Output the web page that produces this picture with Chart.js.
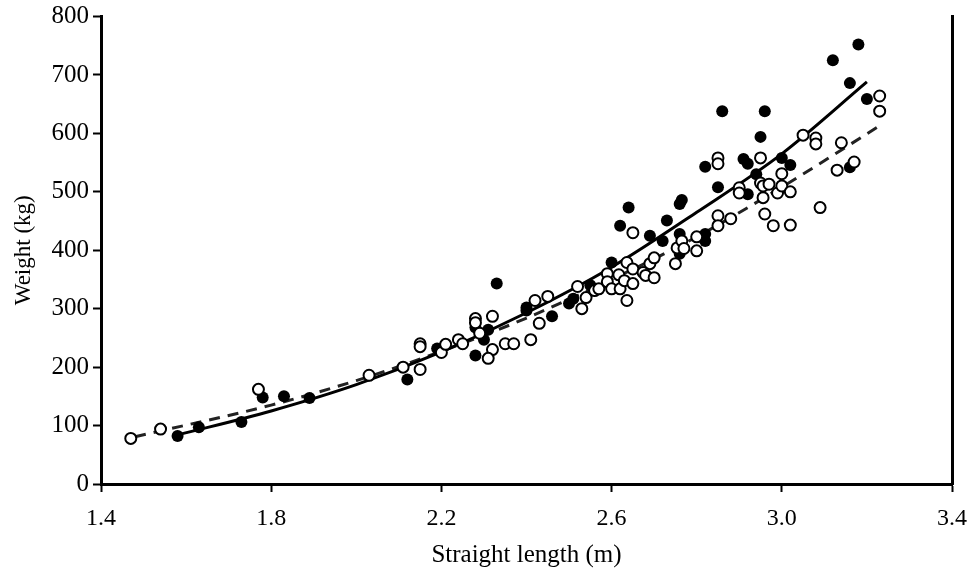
<!DOCTYPE html>
<html lang="en">
<head>
    <meta charset="UTF-8">
    <title>Weight vs straight length</title>
    <script src="https://cdn.jsdelivr.net/npm/chart.js"></script>
    <style>
        html, body { margin: 0; padding: 0; background: #fff; }
        .box { width: 974px; height: 574px; }
    </style>
</head>
<body>
    <div class="box">
        <canvas id="myChart" width="974" height="574"></canvas>
    </div>

    <script>
        // filled circles [length m, weight kg]
        const filledPts = [
            [1.58, 82], [1.63, 97], [1.73, 106], [1.78, 148], [1.83, 150], [1.89, 147],
            [2.12, 179], [2.19, 232], [2.28, 268], [2.28, 220], [2.30, 247], [2.31, 264],
            [2.33, 343], [2.40, 302], [2.40, 297], [2.46, 287], [2.50, 309], [2.51, 317],
            [2.55, 340], [2.60, 379], [2.62, 442], [2.64, 473], [2.69, 425], [2.72, 416],
            [2.73, 451], [2.76, 479], [2.765, 486], [2.76, 428], [2.76, 394], [2.82, 428],
            [2.82, 416], [2.82, 543], [2.85, 508], [2.86, 638], [2.91, 556], [2.92, 548],
            [2.92, 496], [2.94, 530], [2.95, 594], [2.96, 638], [3.00, 558], [3.02, 546],
            [3.12, 725], [3.16, 686], [3.18, 752], [3.20, 659], [3.16, 542]
        ]

        // open circles [length m, weight kg]
        const openPts = [
            [1.47, 78], [1.54, 94], [1.77, 162], [2.03, 186], [2.11, 200], [2.15, 196],
            [2.15, 240], [2.15, 235], [2.20, 225], [2.21, 239], [2.24, 247], [2.25, 240],
            [2.28, 283], [2.28, 276], [2.29, 258], [2.32, 287], [2.32, 230], [2.31, 215],
            [2.35, 240], [2.37, 240], [2.41, 247], [2.42, 314], [2.43, 275], [2.45, 321],
            [2.52, 338], [2.53, 300], [2.54, 319], [2.56, 331], [2.57, 334], [2.59, 360],
            [2.59, 346], [2.60, 334], [2.62, 334], [2.617, 358], [2.63, 348], [2.636, 314],
            [2.636, 379], [2.65, 430], [2.65, 368], [2.65, 343], [2.674, 362], [2.68, 357],
            [2.69, 377], [2.70, 387], [2.70, 353], [2.75, 377], [2.754, 404], [2.765, 416],
            [2.77, 403], [2.80, 399], [2.80, 423], [2.85, 459], [2.85, 442], [2.85, 558],
            [2.85, 548], [2.88, 454], [2.90, 507], [2.90, 498], [2.95, 558], [2.95, 515],
            [2.956, 510], [2.97, 513], [2.956, 490], [2.96, 462], [2.98, 442], [2.99, 498],
            [3.00, 531], [3.00, 510], [3.02, 500], [3.02, 443], [3.05, 597], [3.08, 592],
            [3.08, 582], [3.09, 473], [3.13, 537], [3.14, 584], [3.17, 551], [3.23, 664],
            [3.23, 638]
        ]

        // fitted curves
        const solidFitX = [1.58, 1.8, 2.0, 2.2, 2.4, 2.6, 2.8, 3.0, 3.2]
        const solidFitY = [84, 125, 170, 226, 293, 371, 465, 565, 688]
        const dashFitX = [1.48, 1.8, 2.0, 2.2, 2.4, 2.6, 2.8, 3.0, 3.23]
        const dashFitY = [81, 135, 177, 227, 284, 350, 423, 508, 613]

        const toXY = (xs, ys) => xs.map((x, i) => ({ x: x, y: ys[i] }))
        const pairs = arr => arr.map(p => ({ x: p[0], y: p[1] }))

        const serif = 'Liberation Serif'

        const ctx = document.getElementById('myChart').getContext('2d')
        const myChart = new Chart(ctx, {
            type: 'scatter',
            data: {
                datasets: [
                    {
                        label: 'open',
                        data: pairs(openPts),
                        pointRadius: 5.5,
                        pointBorderWidth: 2,
                        pointBorderColor: '#000',
                        pointBackgroundColor: '#fff'
                    },
                    {
                        label: 'filled',
                        data: pairs(filledPts),
                        pointRadius: 6,
                        pointBorderWidth: 0,
                        pointBackgroundColor: '#000'
                    },
                    {
                        label: 'fit filled',
                        data: toXY(solidFitX, solidFitY),
                        showLine: true,
                        pointRadius: 0,
                        borderColor: '#000',
                        borderWidth: 3,
                        cubicInterpolationMode: 'monotone'
                    },
                    {
                        label: 'fit open',
                        data: toXY(dashFitX, dashFitY),
                        showLine: true,
                        pointRadius: 0,
                        borderColor: '#222',
                        borderWidth: 3,
                        borderDash: [11, 8],
                        cubicInterpolationMode: 'monotone'
                    }
                ]
            },
            options: {
                responsive: false,
                animation: false,
                layout: { padding: { top: 15, left: 6, right: 0, bottom: 0 } },
                plugins: {
                    legend: { display: false },
                    tooltip: { enabled: false }
                },
                scales: {
                    x: {
                        type: 'linear',
                        min: 1.4,
                        max: 3.4,
                        afterFit: s => { s.height = 90; s.paddingRight = 0; s.paddingLeft = 0 },
                        ticks: {
                            stepSize: 0.4,
                            color: '#000',
                            font: { family: serif, size: 24 },
                            padding: 12,
                            callback: v => v.toFixed(1)
                        },
                        grid: { drawOnChartArea: false, tickLength: 8, tickWidth: 2, tickColor: '#000' },
                        border: { color: '#000', width: 3 },
                        title: { display: true, text: 'Straight length (m)', color: '#000', font: { family: serif, size: 25 }, padding: { top: 4 } }
                    },
                    y: {
                        min: 0,
                        max: 800,
                        afterFit: s => { s.width = 95 },
                        ticks: { stepSize: 100, color: '#000', font: { family: serif, size: 25, lineHeight: 1 }, padding: 4 },
                        grid: { drawOnChartArea: false, tickLength: 8, tickWidth: 2, tickColor: '#000' },
                        border: { color: '#000', width: 3 },
                        title: { display: true, text: 'Weight (kg)', color: '#000', font: { family: serif, size: 23 }, padding: { bottom: 0 } }
                    },
                    y2: {
                        position: 'right',
                        min: 0,
                        max: 800,
                        afterFit: s => { s.width = 22 },
                        ticks: { display: false },
                        grid: { drawOnChartArea: false, drawTicks: false },
                        border: { color: '#000', width: 3 }
                    }
                }
            }
        })
    </script>
</body>
</html>
